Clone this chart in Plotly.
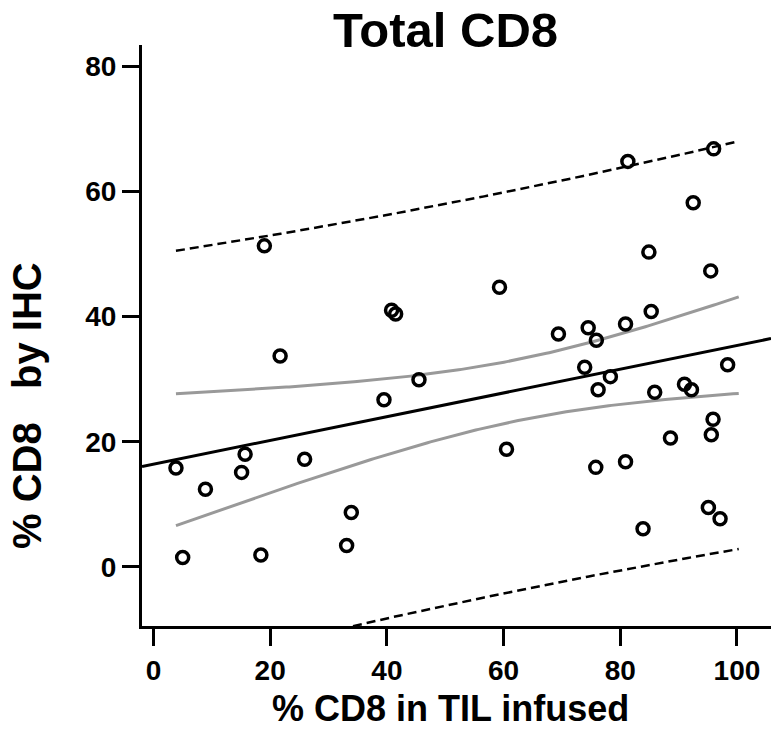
import numpy as np
import plotly.graph_objects as go

# ---- data ----
til_cd8 = [3.85, 5.0, 8.9, 15.1, 15.7, 18.4, 19.0, 21.7, 25.9, 33.1, 33.9, 39.5,
           40.8, 41.5, 45.5, 59.3, 60.5, 69.4, 73.9, 74.5, 75.8, 75.9, 76.2, 78.3,
           80.9, 80.9, 81.3, 83.9, 84.9, 85.3, 85.9, 88.6, 91.0, 92.2, 92.5, 95.1,
           95.5, 95.6, 95.9, 96.0, 97.1, 98.4]
ihc_cd8 = [15.8, 1.5, 12.4, 15.1, 18.0, 1.9, 51.3, 33.7, 17.2, 3.4, 8.7, 26.7,
           41.0, 40.4, 29.9, 44.7, 18.8, 37.2, 31.9, 38.2, 15.9, 36.2, 28.3, 30.4,
           38.8, 16.8, 64.8, 6.1, 50.3, 40.8, 27.9, 20.6, 29.2, 28.3, 58.2, 9.5,
           47.3, 21.1, 23.6, 66.8, 7.7, 32.3]
x_ticks = [0, 20, 40, 60, 80, 100]
y_ticks = [0, 20, 40, 60, 80]
band_span = [3.85, 100.3]
x_range = [-1.97, 105.83]
y_range = [-9.45, 83.4]
t_crit = 2.021  # t(0.975, df=40)

# ---- linear fit with 95% mean CI and prediction interval ----
X = np.array(til_cd8); Y = np.array(ihc_cd8)
n = len(X)
b1, b0 = np.polyfit(X, Y, 1)
res = Y - (b0 + b1 * X)
s = np.sqrt(np.sum(res ** 2) / (n - 2))
xm = X.mean(); sxx = np.sum((X - xm) ** 2)
xs = np.linspace(band_span[0], band_span[1], 200)
yfit = b0 + b1 * xs
se_m = s * np.sqrt(1 / n + (xs - xm) ** 2 / sxx)
se_p = s * np.sqrt(1 + 1 / n + (xs - xm) ** 2 / sxx)
xl = np.array(x_range)

FONT = "Liberation Sans, Arial, sans-serif"

fig = go.Figure()
for yy in [yfit - t_crit * se_p, yfit + t_crit * se_p]:
    fig.add_trace(go.Scatter(x=xs, y=yy, mode="lines", hoverinfo="skip",
                             line=dict(color="black", width=2.5, dash="9px,5px")))
for yy in [yfit - t_crit * se_m, yfit + t_crit * se_m]:
    fig.add_trace(go.Scatter(x=xs, y=yy, mode="lines", hoverinfo="skip",
                             line=dict(color="#999999", width=3)))
fig.add_trace(go.Scatter(x=xl, y=b0 + b1 * xl, mode="lines", hoverinfo="skip",
                         line=dict(color="black", width=3)))
fig.add_trace(go.Scatter(x=til_cd8, y=ihc_cd8, mode="markers",
                         marker=dict(symbol="circle-open", size=12, color="black",
                                     line=dict(width=3.5, color="black"))))

L, R, T, B = 142, 0, 45, 104
fig.update_layout(
    width=771, height=730,
    margin=dict(l=L, r=R, t=T, b=B),
    plot_bgcolor="white", paper_bgcolor="white",
    showlegend=False,
    font=dict(family=FONT, color="black"),
    xaxis=dict(range=x_range, tickvals=x_ticks, showgrid=False, zeroline=False,
               showline=True, linecolor="black", linewidth=3,
               ticks="outside", ticklen=17, tickwidth=3, tickcolor="black",
               tickfont=dict(family=FONT, size=28, weight="bold")),
    yaxis=dict(range=y_range, tickvals=y_ticks, showgrid=False, zeroline=False,
               showline=True, linecolor="black", linewidth=3,
               ticks="outside", ticklen=17, tickwidth=3, tickcolor="black",
               tickfont=dict(family=FONT, size=28, weight="bold")),
)

pw = 771 - L - R; ph = 730 - T - B
def ann(text, px, py, size, angle=0):
    fig.add_annotation(text=text, x=(px - L) / pw, y=1 - (py - T) / ph,
                       xref="paper", yref="paper", xanchor="center", yanchor="middle",
                       showarrow=False, textangle=angle, borderpad=0,
                       font=dict(family=FONT, size=size, weight="bold", color="black"))

ann("Total CD8", 445, 30, 49)
ann("% CD8 in TIL infused", 450, 708, 36)
ann("% CD8\u00a0\u00a0 by IHC", 27, 406, 40, -90)

fig.write_html("out.html", config={"displayModeBar": False},
               post_script="document.body.style.margin='0';")
